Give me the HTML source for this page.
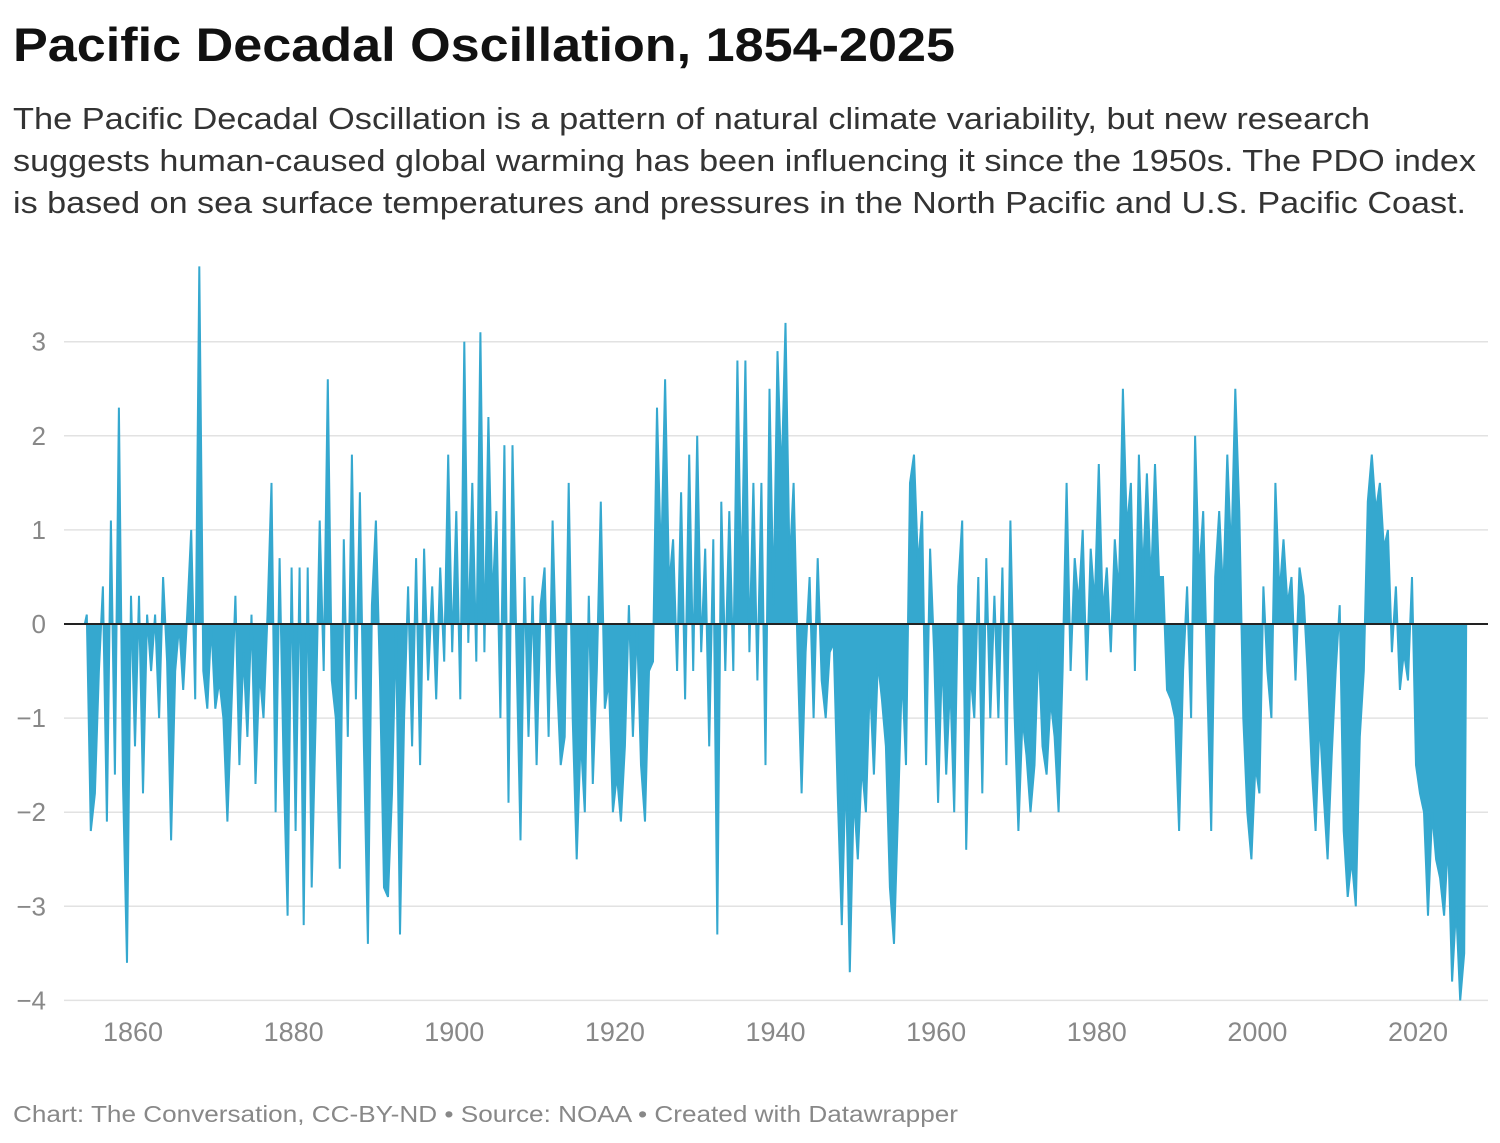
<!DOCTYPE html>
<html><head><meta charset="utf-8">
<style>
body{margin:0;background:#fff;width:1500px;height:1143px;overflow:hidden;font-family:"Liberation Sans",sans-serif}
svg{position:absolute;left:0;top:0}
</style></head><body>
<svg id="chart" width="1500" height="1143" font-family="Liberation Sans, sans-serif">
<text x="13" y="61" font-size="47" font-weight="bold" fill="#111" textLength="942" lengthAdjust="spacingAndGlyphs">Pacific Decadal Oscillation, 1854-2025</text>
<g font-size="31" fill="#333">
<text x="13" y="129" textLength="1357" lengthAdjust="spacingAndGlyphs">The Pacific Decadal Oscillation is a pattern of natural climate variability, but new research</text>
<text x="13" y="171" textLength="1463" lengthAdjust="spacingAndGlyphs">suggests human-caused global warming has been influencing it since the 1950s. The PDO index</text>
<text x="13" y="213" textLength="1453" lengthAdjust="spacingAndGlyphs">is based on sea surface temperatures and pressures in the North Pacific and U.S. Pacific Coast.</text>
</g>
<text x="13" y="1122" font-size="23" fill="#888" textLength="945" lengthAdjust="spacingAndGlyphs">Chart: The Conversation, CC-BY-ND • Source: NOAA • Created with Datawrapper</text>
</svg>
<script>
const startYear = 1854;
const pdoValues = [
0.1,-2.2, -1.8,-0.5, 0.4,-2.1, 1.1,-1.6, 2.3,-1.7, -3.6,0.3, -1.3,0.3, -1.8,0.1, -0.5,0.1, -1.0,0.5,
-0.4,-2.3, -0.5,0.0, -0.7,0.1, 1.0,-0.8, 3.8,-0.5, -0.9,0.0, -0.9,-0.6, -1.0,-2.1, -0.9,0.3, -1.5,-0.3,
-1.2,0.1, -1.7,-0.5, -1.0,0.1, 1.5,-2.0, 0.7,-1.5, -3.1,0.6, -2.2,0.6, -3.2,0.6, -2.8,-1.0, 1.1,-0.5,
2.6,-0.6, -1.0,-2.6, 0.9,-1.2, 1.8,-0.8, 1.4,-1.3, -3.4,0.2, 1.1,-0.6, -2.8,-2.9, -1.8,0.0, -3.3,-1.0,
0.4,-1.3, 0.7,-1.5, 0.8,-0.6, 0.4,-0.8, 0.6,-0.4, 1.8,-0.3, 1.2,-0.8, 3.0,-0.2, 1.5,-0.4, 3.1,-0.3,
2.2,0.2, 1.2,-1.0, 1.9,-1.9, 1.9,-0.3, -2.3,0.5, -1.2,0.3, -1.5,0.2, 0.6,-1.2, 1.1,-0.5, -1.5,-1.2,
1.5,-1.0, -2.5,-1.2, -2.0,0.3, -1.7,-0.5, 1.3,-0.9, -0.6,-2.0, -1.6,-2.1, -1.3,0.2, -1.2,0.0, -1.5,-2.1,
-0.5,-0.4, 2.3,0.6, 2.6,0.4, 0.9,-0.5, 1.4,-0.8, 1.8,-0.5, 2.0,-0.3, 0.8,-1.3, 0.9,-3.3, 1.3,-0.5,
1.2,-0.5, 2.8,0.3, 2.8,-0.3, 1.5,-0.6, 1.5,-1.5, 2.5,0.2, 2.9,1.5, 3.2,0.6, 1.5,-0.3, -1.8,-0.3,
0.5,-1.0, 0.7,-0.6, -1.0,-0.3, -0.2,-1.8, -3.2,-1.5, -3.7,-1.8, -2.5,-1.5, -2.0,-0.6, -1.6,-0.4, -0.8,-1.3,
-2.8,-3.4, -2.0,-0.5, -1.5,1.5, 1.8,0.6, 1.2,-1.5, 0.8,-0.3, -1.9,-0.3, -1.6,-0.6, -2.0,0.4, 1.1,-2.4,
-0.5,-1.0, 0.5,-1.8, 0.7,-1.0, 0.3,-1.0, 0.6,-1.5, 1.1,-0.9, -2.2,-1.0, -1.4,-2.0, -1.5,-0.2, -1.3,-1.6,
-0.8,-1.2, -2.0,-0.5, 1.5,-0.5, 0.7,0.2, 1.0,-0.6, 0.8,0.2, 1.7,0.1, 0.6,-0.3, 0.9,0.3, 2.5,1.0,
1.5,-0.5, 1.8,0.5, 1.6,0.4, 1.7,0.5, 0.5,-0.7, -0.8,-1.0, -2.2,-0.5, 0.4,-1.0, 2.0,0.5, 1.2,-0.6,
-2.2,0.5, 1.2,0.3, 1.8,0.7, 2.5,1.2, -1.0,-2.0, -2.5,-1.5, -1.8,0.4, -0.5,-1.0, 1.5,0.3, 0.9,0.2,
0.5,-0.6, 0.6,0.3, -0.5,-1.5, -2.2,-1.0, -1.8,-2.5, -1.4,-0.5, 0.2,-2.2, -2.9,-2.5, -3.0,-1.2, -0.5,1.3,
1.8,1.2, 1.5,0.8, 1.0,-0.3, 0.4,-0.7, -0.3,-0.6, 0.5,-1.5, -1.8,-2.0, -3.1,-2.0, -2.5,-2.7, -3.1,-2.3,
-3.8,-3.0, -4.0,-3.5
];
const yTicks = [3,2,1,0,-1,-2,-3,-4];
const yTickLabels = ["3","2","1","0","\u22121","\u22122","\u22123","\u22124"];
const xTicks = [1860,1880,1900,1920,1940,1960,1980,2000,2020];

const svg = document.getElementById('chart');
const NS = 'http://www.w3.org/2000/svg';
function xScale(yr){ return 133 + (yr - 1860) * (1285 / 160); }
function yScale(v){ return 624 - v * 94.1; }

yTicks.forEach((t,i)=>{
  const l = document.createElementNS(NS,'line');
  
  
  l.setAttribute('x1',64); l.setAttribute('x2',1488);
  l.setAttribute('y1',yScale(t)); l.setAttribute('y2',yScale(t));
  l.setAttribute('stroke','#e2e2e2'); l.setAttribute('stroke-width',1.5);
  svg.appendChild(l);
  const tx = document.createElementNS(NS,'text');
  
  
  tx.setAttribute('x',46); tx.setAttribute('y',yScale(t)+9);
  tx.setAttribute('text-anchor','end'); tx.setAttribute('font-size','26');
  tx.setAttribute('fill','#888');
  tx.textContent = yTickLabels[i];
  svg.appendChild(tx);
});

let d = 'M' + xScale(startYear) + ',' + yScale(0);
pdoValues.forEach((v,i)=>{
  const t = startYear + i*0.5 + 0.25;
  d += ' L' + xScale(t).toFixed(1) + ',' + yScale(v).toFixed(1);
});
d += ' L' + xScale(startYear + pdoValues.length*0.5) + ',' + yScale(0) + ' Z';
const area = document.createElementNS(NS,'path');


area.setAttribute('d',d);
area.setAttribute('fill','#35a8cf'); area.setAttribute('stroke','#35a8cf'); area.setAttribute('stroke-width','2');
svg.appendChild(area);

const zl = document.createElementNS(NS,'line');


zl.setAttribute('x1',64); zl.setAttribute('x2',1488);
zl.setAttribute('y1',yScale(0)); zl.setAttribute('y2',yScale(0));
zl.setAttribute('stroke','#222'); zl.setAttribute('stroke-width',2);
svg.appendChild(zl);

xTicks.forEach(t=>{
  const tx = document.createElementNS(NS,'text');
  
  
  tx.setAttribute('x',xScale(t)); tx.setAttribute('y',1041);
  tx.setAttribute('text-anchor','middle'); tx.setAttribute('font-size','27');
  tx.setAttribute('fill','#888');
  tx.textContent = t;
  svg.appendChild(tx);
});
</script>
</body></html>
